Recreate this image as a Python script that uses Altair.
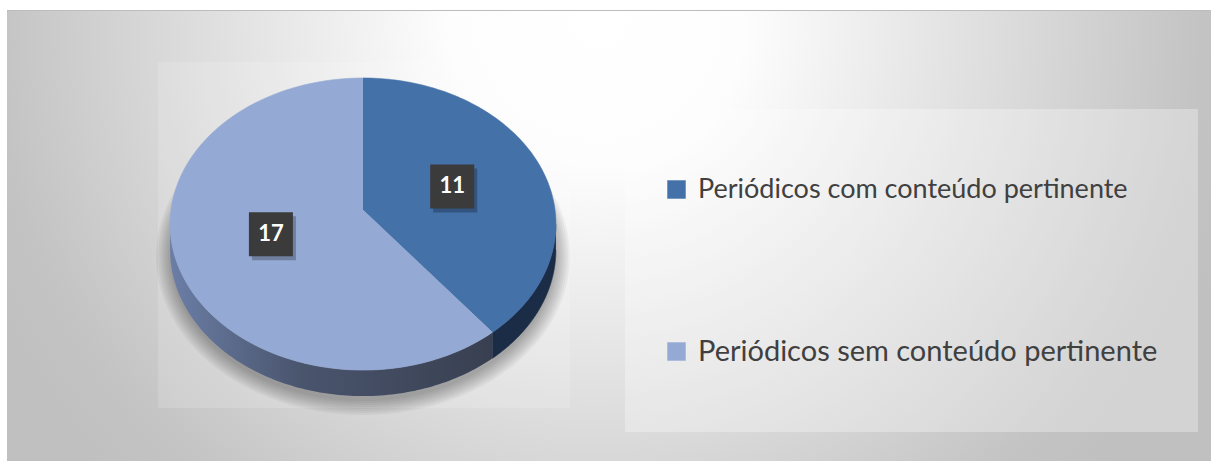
import altair as alt
import pandas as pd

# ---- data ----
categories = ["Periódicos com conteúdo pertinente", "Periódicos sem conteúdo pertinente"]
values = [11, 17]
slice_colors = ["#4371a8", "#94aad4"]

df = pd.DataFrame({"cat": categories, "value": values, "order": [0, 1]})

# ---- layout constants (pixels) ----
W, H = 1211, 461
CX, CY = 363, 210          # apex of the pie
A, B, K = 192, 144.7, 0.0962  # projected radii and perspective factor
DEPTH = 26
N = 120

xs = alt.Scale(domain=[0, W], nice=False, zero=False)
ys = alt.Scale(domain=[H, 0], nice=False, zero=False)
X = alt.X("px:Q", scale=xs, axis=None)
Y = alt.Y("py:Q", scale=ys, axis=None)


def px_expr():
    return f"{CX} + {A}*datum.u/(1 - {K}*datum.w)"


def py_expr(extra="0"):
    return f"{CY} + ({extra}) + {B}*datum.w/(1 - {K}*datum.w)"


base = (
    alt.Chart(df)
    .transform_window(cum="sum(value)", sort=[alt.SortField("order")], frame=[None, 0])
    .transform_joinaggregate(total="sum(value)")
    .transform_calculate(
        a0="2*PI*(datum.cum - datum.value)/datum.total",
        a1="2*PI*datum.cum/datum.total",
    )
)

# background (radial gradient; Vega maps the unit square to cover the rect, centred)
one = alt.Data(values=[{"k": 1}])
bg = alt.Chart(one).mark_rect(
    fill=alt.Gradient(
        gradient="radial",
        stops=[
            alt.GradientStop(color="#ffffff", offset=0),
            alt.GradientStop(color="#fdfdfd", offset=0.22),
            alt.GradientStop(color="#c3c3c3", offset=0.9),
            alt.GradientStop(color="#c0c0c0", offset=1),
        ],
        x1=0.49, y1=0.318, x2=0.49, y2=0.318, r1=0, r2=0.56,
    )
).encode(x=alt.value(7), x2=alt.value(W), y=alt.value(10), y2=alt.value(H))

top_line = alt.Chart(one).mark_rule(color="#bcbcbc", strokeWidth=1).encode(
    x=alt.value(7), x2=alt.value(W), y=alt.value(10.5)
)

plot_box = alt.Chart(one).mark_rect(fill="#ffffff", opacity=0.15).encode(
    x=alt.value(158), x2=alt.value(570), y=alt.value(62), y2=alt.value(408)
)

legend_box = alt.Chart(one).mark_rect(fill="#ffffff", opacity=0.3).encode(
    x=alt.value(625), x2=alt.value(1198), y=alt.value(109), y2=alt.value(432)
)

# soft shadow below the pie
shadow = (
    alt.Chart(alt.sequence(0, 8, as_="lvl"))
    .transform_calculate(steps=f"sequence(0, {N + 1})")
    .transform_flatten(["steps"], as_=["i"])
    .transform_calculate(t=f"2*PI*datum.i/{N}")
    .transform_calculate(u="sin(datum.t)", w="-cos(datum.t)")
    .transform_calculate(
        px=f"{CX} + ({A} + 2*datum.lvl)*datum.u/(1 - {K}*datum.w)",
        py=f"{CY} + {DEPTH} + 5 + ({B} + 1.8*datum.lvl)*datum.w/(1 - {K}*datum.w)",
    )
    .mark_line(fill="#000000", fillOpacity=0.04, strokeWidth=0)
    .encode(x=X, y=Y, order="i:Q", detail="lvl:N")
)

# side walls
side = (
    base.transform_calculate(
        s0=f"max(datum.a0, acos(-{K}))",
        s1=f"min(datum.a1, 2*PI - acos(-{K}))",
    )
    .transform_filter("datum.s1 > datum.s0")
    .transform_calculate(steps=f"sequence(0, {2 * N + 2})")
    .transform_flatten(["steps"], as_=["i"])
    .transform_calculate(
        f=f"datum.i <= {N} ? datum.i/{N} : ({2 * N + 1} - datum.i)/{N}",
        off=f"datum.i <= {N} ? 0 : {DEPTH}",
    )
    .transform_calculate(t="datum.s0 + (datum.s1 - datum.s0)*datum.f")
    .transform_calculate(u="sin(datum.t)", w="-cos(datum.t)")
    .transform_calculate(px=px_expr(), py=py_expr("datum.off"))
)
side_dark = side.transform_filter("datum.order == 0").mark_line(
    fill="#1b2c46", stroke="#1b2c46", strokeWidth=0.5
).encode(x=X, y=Y, order="i:Q")
side_light = side.transform_filter("datum.order == 1").mark_line(
    fill=alt.Gradient(
        gradient="linear",
        stops=[
            alt.GradientStop(color="#6b7ea6", offset=0),
            alt.GradientStop(color="#4a556e", offset=0.4),
            alt.GradientStop(color="#383f50", offset=1),
        ],
        x1=0, x2=1, y1=0, y2=0,
    ),
    strokeWidth=0,
).encode(x=X, y=Y, order="i:Q")

# top face
top = (
    base.transform_calculate(steps=f"sequence(0, {N + 2})")
    .transform_flatten(["steps"], as_=["i"])
    .transform_calculate(t=f"datum.a0 + (datum.a1 - datum.a0)*(datum.i - 1)/{N}")
    .transform_calculate(
        u="datum.i == 0 ? 0 : sin(datum.t)",
        w="datum.i == 0 ? 0 : -cos(datum.t)",
    )
    .transform_calculate(px=px_expr(), py=py_expr())
    .mark_line(strokeWidth=0.6)
    .encode(
        x=X,
        y=Y,
        order="i:Q",
        detail="cat:N",
        fill=alt.Fill(
            "cat:N",
            scale=alt.Scale(domain=categories, range=slice_colors),
            legend=alt.Legend(
                title=None,
                orient="none",
                legendX=663,
                legendY=176,
                symbolType="square",
                symbolSize=340,
                symbolStrokeWidth=0,
                labelFont="Lato",
                labelFontSize=alt.ExprRef(expr="datum.index == 1 ? 29 : 27"),
                labelColor="#404040",
                labelOffset=8,
                labelLimit=0,
                rowPadding=134,
                padding=0,
            ),
        ),
        stroke=alt.Stroke(
            "cat:N", scale=alt.Scale(domain=categories, range=slice_colors), legend=None
        ),
    )
)

# data labels
lab = (
    base.transform_calculate(tm="(datum.a0 + datum.a1)/2")
    .transform_calculate(u="0.5*sin(datum.tm)", w="-0.5*cos(datum.tm)")
    .transform_calculate(px=px_expr(), py=py_expr())
)
lab_shadow = lab.mark_square(size=1936, color="#000000", opacity=0.25, xOffset=3, yOffset=4).encode(x=X, y=Y)
lab_box = lab.mark_square(size=1936, color="#3b3b3b", opacity=1).encode(x=X, y=Y)
lab_text = lab.mark_text(
    font="Lato", fontWeight="bold", fontSize=22, color="#ffffff", align="center", baseline="middle"
).encode(x=X, y=Y, text=alt.Text("value:Q"))

chart = (
    alt.layer(bg, top_line, plot_box, legend_box, shadow, side_dark, side_light, top,
              lab_shadow, lab_box, lab_text)
    .properties(width=W, height=H, padding=0, autosize="none")
    .configure_view(stroke=None)
)

chart.save("out.html", embed_options={"renderer": "svg", "actions": False})
